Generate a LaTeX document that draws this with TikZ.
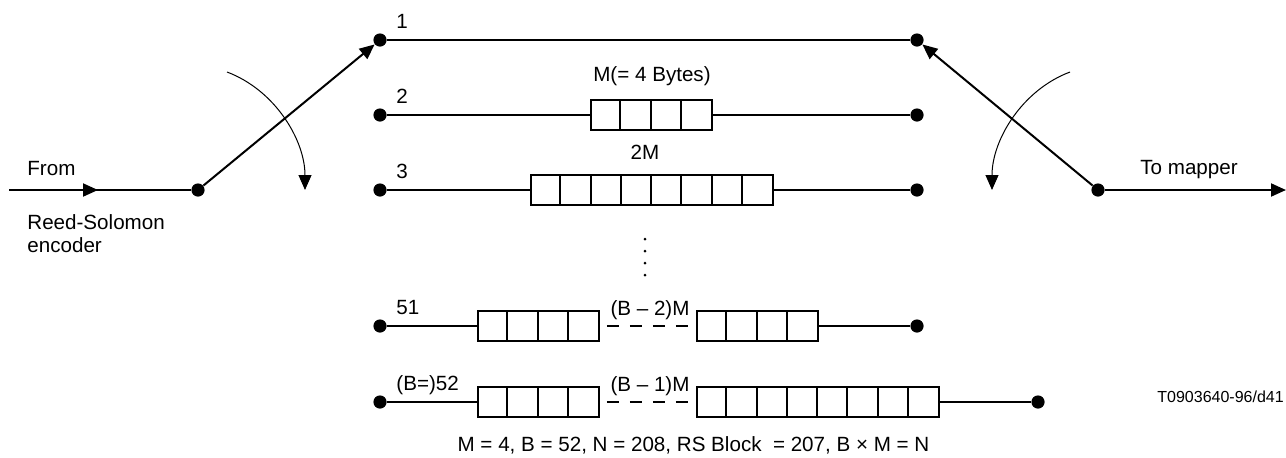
\documentclass[tikz,border=0pt]{standalone}
\usepackage{fontspec}
\setmainfont{Liberation Sans}
\usepackage{tikz}
\usetikzlibrary{positioning, calc, arrows.meta}

\begin{document}
\begin{tikzpicture}[x=0.5pt, y=-0.5pt, font=\fontsize{10.3}{11.8}\selectfont,
  >={Triangle[length=7.5pt, width=6.5pt]},
  ponto/.style={circle, fill=black, inner sep=0pt, minimum size=6.6pt},
  linha/.style={line width=1pt},
  fila/.style={draw, line width=0.8pt, inner sep=0pt, minimum height=15pt, minimum width=#1*15.125pt},
  rotulo/.style={anchor=base west, inner sep=0pt},
  tracejado/.style={linha, dash pattern=on 6pt off 5.5pt, shorten <=3.5pt, shorten >=3.5pt}]
% --- INTERLEAVER CONVOLUCIONAL (B = 52, M = 4) ---
\useasboundingbox (0,0) rectangle (1286,457);

% LAYER 1: Pontos dos ramos
\foreach \r/\y in {1/40, 2/115, 3/190, 51/326, 52/402}
  \node[ponto] (e\r) at (380,\y) {};
\foreach \r/\y in {1/40, 2/115, 3/190, 51/326}
  \node[ponto] (d\r) at (917,\y) {};
\node[ponto] (d52) at (1038,402) {};

% LAYER 2: Registradores (filas de bytes)
\node[fila=4] (b2) at (651.5,115) {};
\node[fila=8] (b3) at (652,190) {};
\node[fila=4] (b51a) at (538.5,326) {};
\node[fila=4] (b51b) at (757.5,326) {};
\node[fila=4] (b52a) at (538.5,402) {};
\node[fila=8] (b52b) at (818,402) {};
\foreach \b/\m in {b2/3, b3/7, b51a/3, b51b/3, b52a/3, b52b/7}
  \foreach \i in {1,...,\m}
    \draw[line width=1pt] ($(\b.north west)+(\i*30.25,0)$) -- ($(\b.south west)+(\i*30.25,0)$);

% LAYER 3: Linhas dos ramos
\draw[linha] (e1) -- (d1);
\draw[linha] (e2) -- (b2) (b2) -- (d2);
\draw[linha] (e3) -- (b3) (b3) -- (d3);
\draw[linha] (e51) -- (b51a) (b51b) -- (d51);
\draw[linha] (e52) -- (b52a) (b52b) -- (d52);
\draw[tracejado] (b51a) -- (b51b);
\draw[tracejado] (b52a) -- (b52b);
\foreach \y in {239,251,263,275}
  \fill (645,\y) circle (0.75pt);

% LAYER 4: Comutadores de entrada e saida
\node[ponto] (pivE) at (198,190) {};
\node[ponto] (pivD) at (1098,190) {};
\coordinate (entrada) at (9,190);
\coordinate (meioE) at (98,190);
\coordinate (saida) at (1286,190);
\draw[linha] (entrada) -- (pivE);
\draw[linha, ->] (entrada) -- (meioE);
\draw[linha, ->] (pivD) -- (saida);
\draw[linha, ->] (pivE) -- (e1);
\draw[linha, ->] (pivD) -- (d1);
\draw[line width=0.5pt, ->] (227,72) .. controls (275,90) and (305,140) .. (305,190);
\draw[line width=0.5pt, ->] (1070,72) .. controls (1022,90) and (992,140) .. (992,190);

% LAYER 5: Textos
\node[rotulo] (n1) at ($(e1)+(16,-12)$) {1};
\node[rotulo] (n2) at ($(e2)+(16,-12)$) {2};
\node[rotulo] (n3) at ($(e3)+(16,-12)$) {3};
\node[rotulo] (n51) at ($(e51)+(16,-12)$) {51};
\node[rotulo] (n52) at ($(e52)+(16,-12)$) {(B=)52};
\node (tm) at (652,76) {M(= 4 Bytes)};
\node (t2m) at (645,152) {2M};
\node (tb2) at (650,310) {(B – 2)M};
\node (tb1) at (650,386) {(B – 1)M};
\node[anchor=west, inner sep=0pt] (de) at (27,169) {From};
\node[anchor=west, inner sep=0pt, align=left] (rs) at (27,233.5) {Reed-Solomon\\encoder};
\node[anchor=west, inner sep=0pt] (para) at (1140,170) {To mapper};
\node[anchor=west, inner sep=0pt, font=\fontsize{8}{9}\selectfont] (ref) at (1157,397) {T0903640-96/d41};
\node (legenda) at (693.5,445) {M = 4, B = 52, N = 208, RS Block\ \ = 207, B × M = N};
\end{tikzpicture}
\end{document}
